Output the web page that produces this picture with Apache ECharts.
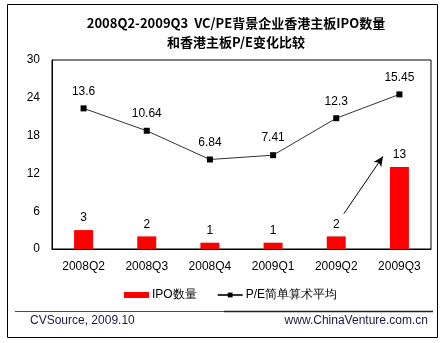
<!DOCTYPE html>
<html><head><meta charset="utf-8">
<script src="https://cdn.jsdelivr.net/npm/echarts@6/dist/echarts.min.js"></script>
<style>html,body{margin:0;padding:0;background:#fff}#c{width:444px;height:343px}</style>
</head><body><div id="c"></div>
<script>
const categories = ['2008Q2','2008Q3','2008Q4','2009Q1','2009Q2','2009Q3'];
const ipoCount = [3, 2, 1, 1, 2, 13];
const peAverage = [13.6, 10.64, 6.84, 7.41, 12.3, 15.45];
const leftTicks = [0, 30, 6];
const arrowFrom = [4.12, 5.6];
const arrowTo = [4.74, 14.7];
const titleLine1 = '2008Q2-2009Q3  VC/PE背景企业香港主板IPO数量';
const titleLine2 = '和香港主板P/E变化比较';
const sourceText = 'CVSource, 2009.10';
const siteText = 'www.ChinaVenture.com.cn';

const FONT = 'Liberation Sans, Arial, sans-serif';
const chart = echarts.init(document.getElementById('c'), null, {renderer:'canvas'});
chart.setOption({
  animation:false,
  backgroundColor:'#fff',
  title:[
    {text:titleLine1, left:231, top:12, textAlign:'center',
     textStyle:{fontFamily:'Noto Sans CJK SC', fontSize:13, fontWeight:'bold', color:'#000'}},
    {text:titleLine2, left:231, top:31, textAlign:'center',
     textStyle:{fontFamily:'Noto Sans CJK SC', fontSize:13, fontWeight:'bold', color:'#000'}}
  ],
  grid:{left:52, right:13, top:60, bottom:94, show:true, borderColor:'#000', borderWidth:1, containLabel:false},
  legend:{
    data:[{name:'IPO数量', icon:'rect', itemStyle:{color:'#ff0000'}}, {name:'P/E简单算术平均'}],
    top:284, left:119, itemGap:20, itemWidth:25, itemHeight:6,
    textStyle:{fontFamily:FONT, fontSize:12, color:'#000', padding:[0,0,0,-2]}
  },
  xAxis:[
    {type:'category', data:categories, boundaryGap:true,
     axisLine:{lineStyle:{color:'#000', width:1}}, axisTick:{show:false},
     axisLabel:{color:'#000', fontFamily:FONT, fontSize:12, margin:12}},
    {type:'value', min:-0.5, max:5.5, show:false, axisLine:{onZero:false}}
  ],
  yAxis:[
    {type:'value', min:leftTicks[0], max:leftTicks[1], interval:leftTicks[2],
     axisLine:{show:true, onZero:false, lineStyle:{color:'#000', width:1}}, axisTick:{show:false},
     splitLine:{show:false},
     axisLabel:{color:'#000', fontFamily:FONT, fontSize:12, margin:12}},
    {type:'value', min:-5, max:20, show:false, splitLine:{show:false}, axisLine:{onZero:false}}
  ],
  series:[
    {name:'IPO数量', type:'bar', data:ipoCount, barWidth:19, itemStyle:{color:'#ff0000'},
     label:{show:true, position:'top', distance:6, color:'#000', fontFamily:FONT, fontSize:12}},
    {name:'P/E简单算术平均', type:'line', yAxisIndex:1, data:peAverage,
     symbol:'rect', symbolSize:6, itemStyle:{color:'#000'},
     lineStyle:{color:'#333', width:1},
     label:{show:true, position:'top', distance:8, color:'#000', fontFamily:FONT, fontSize:12}},
    {name:'arrow', type:'line', xAxisIndex:1, yAxisIndex:0, data:[], silent:true,
     markLine:{silent:true, symbol:['none','arrow'], symbolSize:[7,10], label:{show:false},
       lineStyle:{color:'#000', width:1, type:'solid'},
       data:[[{coord:arrowFrom},{coord:arrowTo}]]}}
  ],
  graphic:[
    {type:'rect', shape:{x:7.5, y:4.5, width:430, height:333}, style:{fill:'none', stroke:'#000', lineWidth:1}, silent:true},
    {type:'line', shape:{x1:15, y1:311.5, x2:224, y2:311.5}, style:{stroke:'#ff0000', lineWidth:1}},
    {type:'line', shape:{x1:224, y1:311.5, x2:433, y2:311.5}, style:{stroke:'#222', lineWidth:1.5}},
    {type:'text', left:30, top:315, style:{text:sourceText, font:'12px '+FONT, fill:'#1a1a3a'}},
    {type:'text', right:16, top:315, style:{text:siteText, font:'12px '+FONT, fill:'#1a1a3a'}}
  ]
});
</script></body></html>
